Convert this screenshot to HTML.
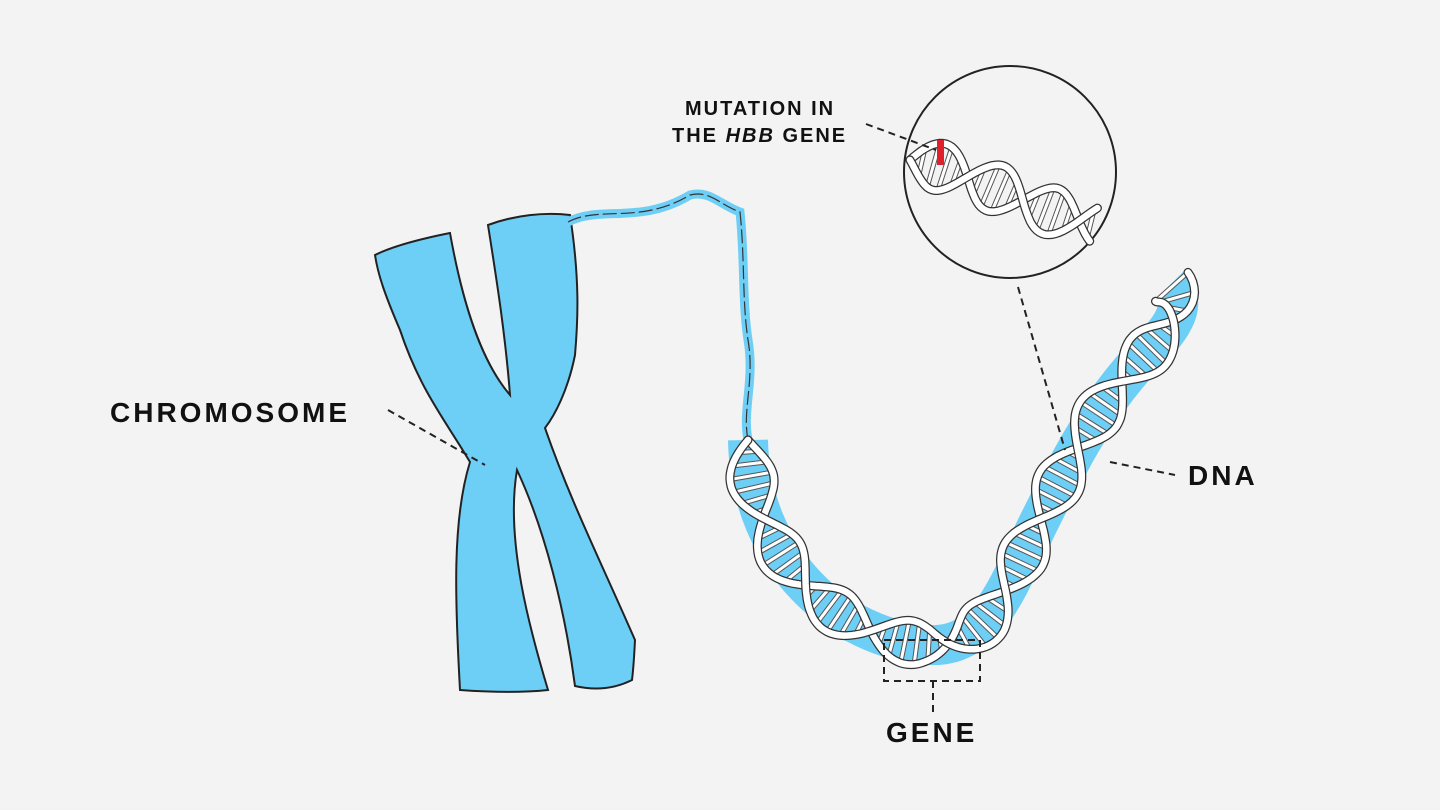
<!DOCTYPE html>
<html><head><meta charset="utf-8"><style>
html,body{margin:0;padding:0;background:#f3f3f3;}
svg{display:block}
text{font-family:"Liberation Sans",sans-serif;font-weight:bold;fill:#111;}
</style></head><body>
<svg id="s" width="1440" height="810" viewBox="0 0 1440 810">
<rect width="1440" height="810" fill="#f3f3f3"/>
<!-- chromosome -->
<path d="M375,255 C395,245 430,237 450,233 C462,300 480,360 510,395 C505,330 495,270 488,225 C515,215 545,212 570,215 C580,280 578,320 575,355 C568,390 555,415 545,428 C570,500 600,560 635,640 C634,660 633,672 632,680 C612,690 592,690 575,686 C565,610 545,530 517,470 C505,540 530,630 548,690 C520,693 488,692 460,690 C455,600 452,520 470,462 C445,420 420,390 400,330 C385,295 378,275 375,255 Z" fill="#6ecff6" stroke="#222" stroke-width="2"/>
<!-- strand -->
<path d="M568,222 C600,205 640,225 690,195 C710,190 720,205 740,212 C745,260 742,300 748,340 C755,380 742,410 748,440" fill="none" stroke="#6ecff6" stroke-width="9" stroke-linecap="round"/>
<path d="M568,222 C600,205 640,225 690,195 C710,190 720,205 740,212 C745,260 742,300 748,340 C755,380 742,410 748,440" fill="none" stroke="#333" stroke-width="1.2" stroke-dasharray="14 4"/>
<path id="hp" d="M748,440 C750,560 840,640 930,645 C990,648 1010,580 1040,520 C1070,460 1100,400 1150,350 C1180,320 1185,300 1170,285" fill="none" stroke="#6ecff6" stroke-width="40"/>
<g id="helix"></g>
<!-- circle -->
<circle cx="1010" cy="172" r="106" fill="#f3f3f3" stroke="#222" stroke-width="2"/>
<path id="cp" d="M910,160 C970,170 1030,210 1095,225" fill="none" stroke="none"/>
<g id="chelix"></g>
<rect x="937" y="140" width="7" height="25" fill="#e0202a"/>
<!-- dashed connectors -->
<g stroke="#222" stroke-width="2" stroke-dasharray="7 5" fill="none">
<line x1="388" y1="410" x2="485" y2="465"/>
<line x1="866" y1="124" x2="936" y2="150"/>
<line x1="1018" y1="287" x2="1065" y2="450"/>
<line x1="1110" y1="462" x2="1175" y2="475"/>
<rect x="884" y="640" width="96" height="41"/>
<line x1="933" y1="681" x2="933" y2="712"/>
</g>
<text x="685" y="115" font-size="20" letter-spacing="2">MUTATION IN</text>
<text x="672" y="142" font-size="20" letter-spacing="2">THE <tspan font-style="italic">HBB</tspan> GENE</text>
<text x="110" y="422" font-size="28" letter-spacing="3">CHROMOSOME</text>
<text x="1188" y="485" font-size="28" letter-spacing="3">DNA</text>
<text x="886" y="742" font-size="28" letter-spacing="3">GENE</text>
</svg>
<script>
function helix(pid,gid,A,P){
 var p=document.getElementById(pid),g=document.getElementById(gid),L=p.getTotalLength(),ns="http://www.w3.org/2000/svg";
 var s1=[],s2=[],r="";
 for(var l=0;l<=L;l+=3){
  var a=p.getPointAtLength(l),b=p.getPointAtLength(Math.min(L,l+1));
  var dx=b.x-a.x,dy=b.y-a.y,m=Math.hypot(dx,dy)||1,nx=-dy/m,ny=dx/m;
  var o=A*Math.sin(l/P*2*Math.PI);
  s1.push([a.x+nx*o,a.y+ny*o]);s2.push([a.x-nx*o,a.y-ny*o]);
  if(l%12<3&&Math.abs(o)>A*0.3){r+="M"+(a.x+nx*o)+","+(a.y+ny*o)+"L"+(a.x-nx*o)+","+(a.y-ny*o);}
 }
 function add(d,st,w){var e=document.createElementNS(ns,"path");e.setAttribute("d",d);e.setAttribute("fill","none");e.setAttribute("stroke",st);e.setAttribute("stroke-width",w);e.setAttribute("stroke-linecap","round");g.appendChild(e);}
 add(r,"#555",5);add(r,"#fff",3);
 function pd(s){return "M"+s.map(function(q){return q[0].toFixed(1)+","+q[1].toFixed(1)}).join("L");}
 add(pd(s2),"#333",9);add(pd(s2),"#fff",6.5);
 add(pd(s1),"#333",9);add(pd(s1),"#fff",6.5);
}
helix("hp","helix",22,160);
helix("cp","chelix",24,120);
</script>
</body></html>
